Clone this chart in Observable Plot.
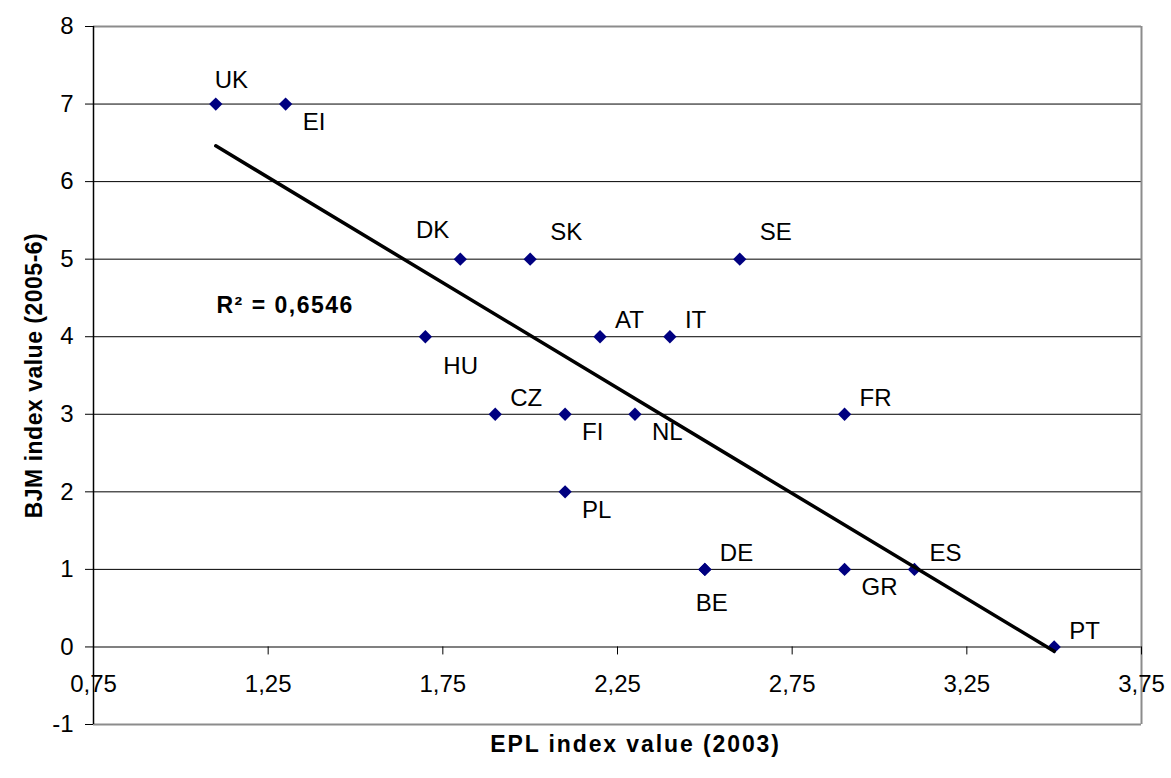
<!DOCTYPE html>
<html>
<head>
<meta charset="utf-8">
<script src="https://cdn.jsdelivr.net/npm/d3@7"></script>
<script src="https://cdn.jsdelivr.net/npm/@observablehq/plot@0.6"></script>
<style>
html, body { margin: 0; padding: 0; background: #ffffff; }
#chart svg { display: block; }
</style>
</head>
<body>
<div id="chart"></div>
<script>
// ---- Data ----
const countries = ["UK","EI","DK","SK","SE","HU","AT","IT","CZ","FI","NL","FR","PL","DE","BE","GR","ES","PT"];
const eplValues = [1.1, 1.3, 1.8, 2.0, 2.6, 1.7, 2.2, 2.4, 1.9, 2.1, 2.3, 2.9, 2.1, 2.5, 2.5, 2.9, 3.1, 3.5];
const bjmValues = [7, 7, 5, 5, 5, 4, 4, 4, 3, 3, 3, 3, 2, 1, 1, 1, 1, 0];
// where each country's label sits relative to its marker
const labelPlacement = ["N","SE","NW","NE2","NE2","SE2","NE","NE","NE","SE","SE","NE","SE","NE","S","SE","NE","NE"];
const xTicks = [0.75, 1.25, 1.75, 2.25, 2.75, 3.25, 3.75];
const yTicks = [-1, 0, 1, 2, 3, 4, 5, 6, 7, 8];
const yGridValues = [1, 2, 3, 4, 5, 6, 7];
const xAxisCrossing = 0;
const xTitle = "EPL index value (2003)";
const yTitle = "BJM index value (2005-6)";

// ---- Build table ----
const data = countries.map((c, i) => ({country: c, epl: eplValues[i], bjm: bjmValues[i], pos: labelPlacement[i]}));

// R² of the linear fit
const mx = d3.mean(eplValues), my = d3.mean(bjmValues);
const sxy = d3.sum(data, d => (d.epl - mx) * (d.bjm - my));
const sxx = d3.sum(data, d => (d.epl - mx) ** 2);
const syy = d3.sum(data, d => (d.bjm - my) ** 2);
const r2 = (sxy * sxy) / (sxx * syy);
const r2Text = "R\u00B2 = " + r2.toFixed(4).replace(".", ",");

const comma = v => v.toFixed(2).replace(".", ",");

const placements = {
  N:   {textAnchor: "start", dx: -1,  dy: -24},
  NW:  {textAnchor: "end",   dx: -11, dy: -29},
  NE2: {textAnchor: "start", dx: 20,  dy: -27},
  NE:  {textAnchor: "start", dx: 15,  dy: -16},
  SE:  {textAnchor: "start", dx: 17,  dy: 18},
  SE2: {textAnchor: "start", dx: 18,  dy: 30},
  S:   {textAnchor: "start", dx: -9,  dy: 34}
};
const labelMarks = Object.entries(placements).map(([k, o]) =>
  Plot.text(data.filter(d => d.pos === k), {x: "epl", y: "bjm", text: "country", fontSize: 24, fill: "#000", ...o})
);

const FONT = "'Liberation Sans', Arial, Helvetica, sans-serif";

const chart = Plot.plot({
  width: 1171,
  height: 778,
  marginLeft: 93,
  marginRight: 30,
  marginTop: 26,
  marginBottom: 54,
  style: {fontFamily: FONT, background: "#ffffff", color: "#000"},
  x: {domain: [0.75, 3.75], axis: null},
  y: {domain: [-1, 8]},
  marks: [
    // gridlines
    Plot.ruleY(yGridValues, {stroke: "#000", strokeWidth: 1}),
    // plot-area border (top, bottom, right)
    Plot.ruleY([yTicks[yTicks.length - 1], yTicks[0]], {stroke: "#8c8c8c", strokeWidth: 2}),
    Plot.ruleX([xTicks[xTicks.length - 1]], {stroke: "#8c8c8c", strokeWidth: 2}),
    // x axis line at y = 0
    Plot.ruleY([xAxisCrossing], {stroke: "#808080", strokeWidth: 2}),
    // x tick marks and labels at the axis crossing
    Plot.ruleX(xTicks, {x: d => d, y1: () => xAxisCrossing, y2: () => xAxisCrossing, insetTop: 8, stroke: "#000", strokeWidth: 1}),
    Plot.text(xTicks, {x: d => d, y: () => xAxisCrossing, text: comma, dy: 37, fontSize: 24, fill: "#000"}),
    // y axis
    Plot.ruleX([xTicks[0]], {stroke: "#000", strokeWidth: 1.5}),
    Plot.axisY(yTicks, {anchor: "left", tickSize: 8, tickPadding: 12, fontSize: 24, tickFormat: d => String(d), label: null, stroke: "#000"}),
    // points
    Plot.dot(data, {x: "epl", y: "bjm", symbol: "diamond2", r: 6, fill: "#000080", stroke: "none"}),
    // linear trend
    Plot.linearRegressionY(data, {x: "epl", y: "bjm", stroke: "#000", strokeWidth: 3.5, ci: 0}),
    // labels
    ...labelMarks,
    // R² annotation
    Plot.text([r2Text], {frameAnchor: "top-left", dx: 123, dy: 270, textAnchor: "start", fontWeight: "bold", fontSize: 23, fill: "#000"}),
    // axis titles
    Plot.text([xTitle], {frameAnchor: "bottom", dx: 18, dy: 27, textAnchor: "middle", fontWeight: "bold", fontSize: 23, fill: "#000"}),
    Plot.text([yTitle], {frameAnchor: "left", rotate: -90, dx: -59, textAnchor: "middle", fontWeight: "bold", fontSize: 23, fill: "#000"})
  ]
});
document.getElementById("chart").appendChild(chart);

// Excel-like looser spacing on the bold texts
const spacing = new Map([[xTitle, "1.9px"], [yTitle, "0.5px"], [r2Text, "1.5px"]]);
d3.select(chart).selectAll("text").each(function () {
  const s = spacing.get(this.textContent);
  if (s) d3.select(this).style("letter-spacing", s);
});
</script>
</body>
</html>
